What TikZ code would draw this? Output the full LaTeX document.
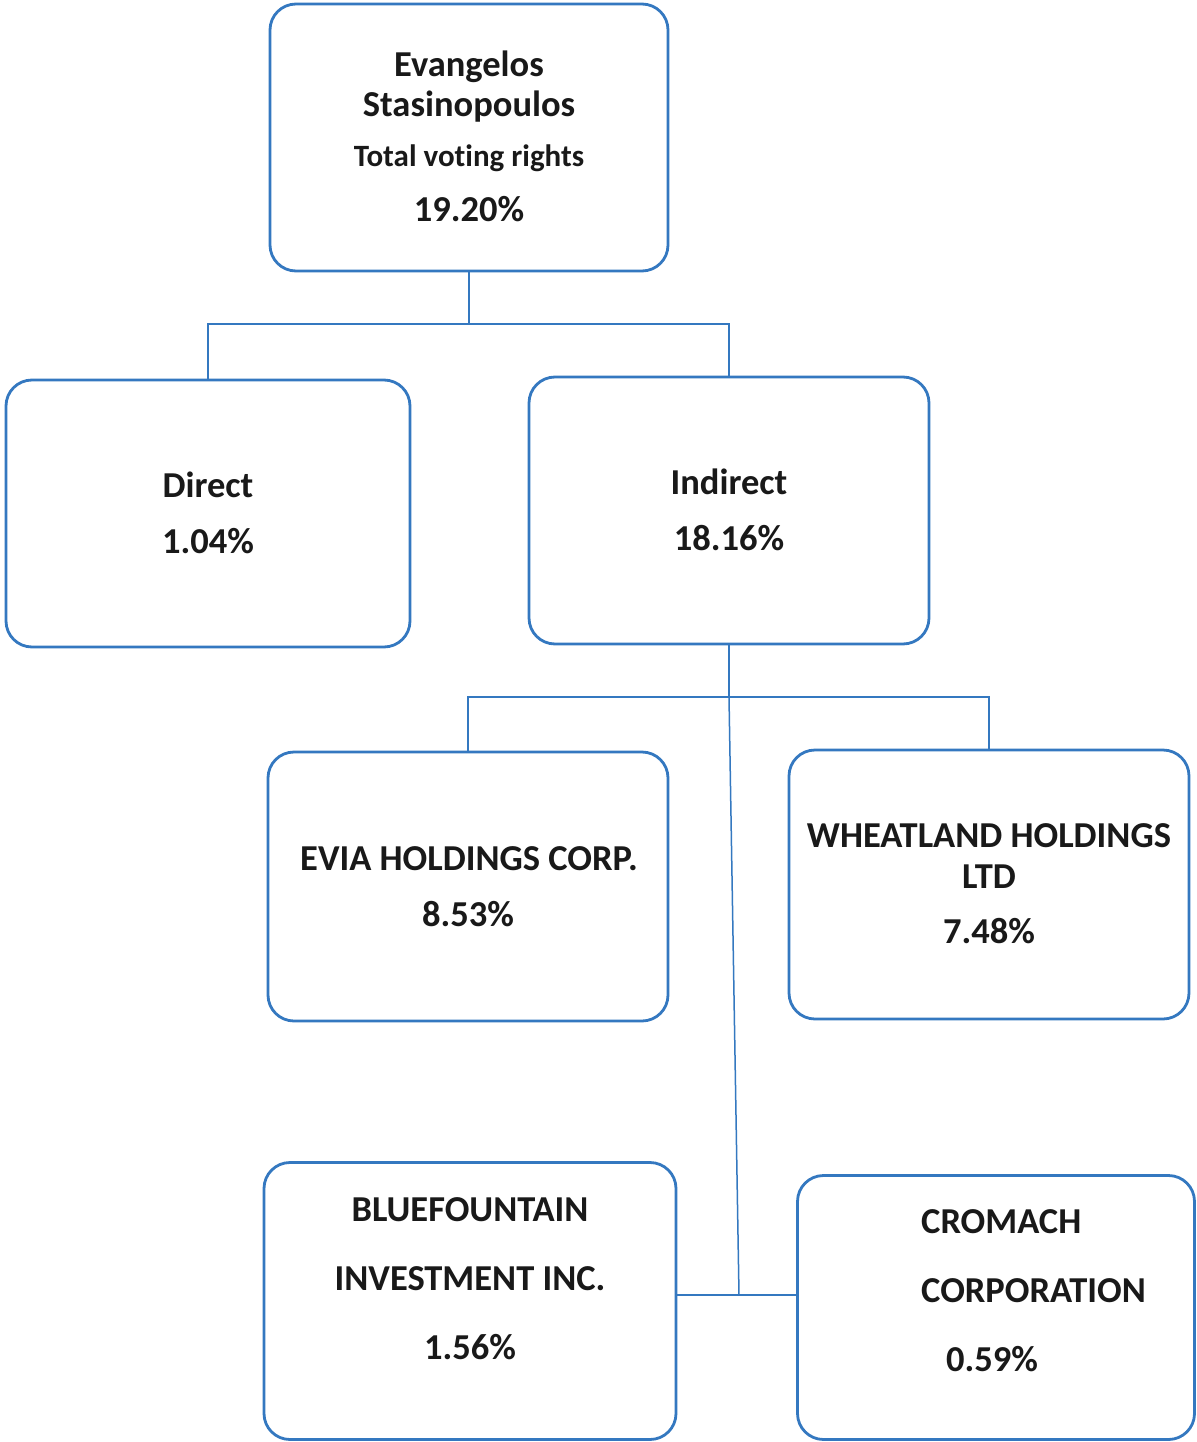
\documentclass[tikz,border=0pt]{standalone}
\usepackage{fontspec}
\setmainfont{Carlito}[Ligatures={NoCommon}]
\definecolor{boxblue}{RGB}{52,120,192}
\definecolor{ink}{RGB}{25,25,25}
\tikzset{
  orgbox/.style={draw=boxblue, line width=2.8pt, rounded corners=26pt, rectangle, inner sep=0pt, fill=white},
  link/.style={draw=boxblue, line width=2.6pt},
  thinlink/.style={draw=boxblue, line width=1.5pt},
  lbl/.style={anchor=base, inner sep=0pt, text=ink, font=\fontsize{36.5}{42}\selectfont\bfseries},
  lblsmall/.style={anchor=base, inner sep=0pt, text=ink, font=\fontsize{31}{36}\selectfont\bfseries},
}
\begin{document}
\begin{tikzpicture}[x=1pt, y=-1pt]
\useasboundingbox[fill=white] (0,0) rectangle (1196,1442);
% boxes
\node[orgbox, minimum width=398pt, minimum height=267pt] (top) at (469,137.5) {};
\node[orgbox, minimum width=404pt, minimum height=267pt] (direct) at (208,513.5) {};
\node[orgbox, minimum width=400pt, minimum height=267pt] (indirect) at (729,510.5) {};
\node[orgbox, minimum width=400pt, minimum height=269pt] (evia) at (468,886.5) {};
\node[orgbox, minimum width=400pt, minimum height=269pt] (wheat) at (989,884.5) {};
\node[orgbox, minimum width=412pt, minimum height=277pt] (blue) at (470,1301) {};
\node[orgbox, minimum width=397pt, minimum height=264pt] (cromach) at (996,1307.5) {};
% connectors
\coordinate (j1) at (469,324);
\coordinate (j2) at (729,697);
\coordinate (j3) at (739,1295);
\draw[link] (top.south) -- (j1);
\draw[link] (direct.north) |- (j1) -| (indirect.north);
\draw[link] (indirect.south) -- (j2);
\draw[link] (evia.north) |- (j2) -| (wheat.north);
\draw[thinlink] (j2) -- (j3);
\draw[link] (blue.east |- j3) -- (cromach.west |- j3);
% texts
\node[lbl] (t1) at (469,77) {Evangelos};
\node[lbl] (t2) at (469,117) {Stasinopoulos};
\node[lblsmall] (t3) at (469,167) {Total voting rights};
\node[lbl] (t4) at (469,221) {19.20\%};
\node[lbl] (d1) at (208,497) {Direct};
\node[lbl] (d2) at (208,553) {1.04\%};
\node[lbl] (i1) at (729,494) {Indirect};
\node[lbl] (i2) at (729,550) {18.16\%};
\node[lbl] (e1) at (469,870) {EVIA HOLDINGS CORP.};
\node[lbl] (e2) at (468,926) {8.53\%};
\node[lbl] (w1) at (989,847) {WHEATLAND HOLDINGS};
\node[lbl] (w2) at (989,888) {LTD};
\node[lbl] (w3) at (989,943) {7.48\%};
\node[lbl] (b1) at (470,1221) {BLUEFOUNTAIN};
\node[lbl] (b2) at (470,1290) {INVESTMENT INC.};
\node[lbl] (b3) at (470,1359) {1.56\%};
\node[lbl, anchor=base west] (c1) at (921,1233) {CROMACH};
\node[lbl, anchor=base west] (c2) at (921,1302) {CORPORATION};
\node[lbl, anchor=base west] (c3) at (946,1371) {0.59\%};
\end{tikzpicture}
\end{document}
